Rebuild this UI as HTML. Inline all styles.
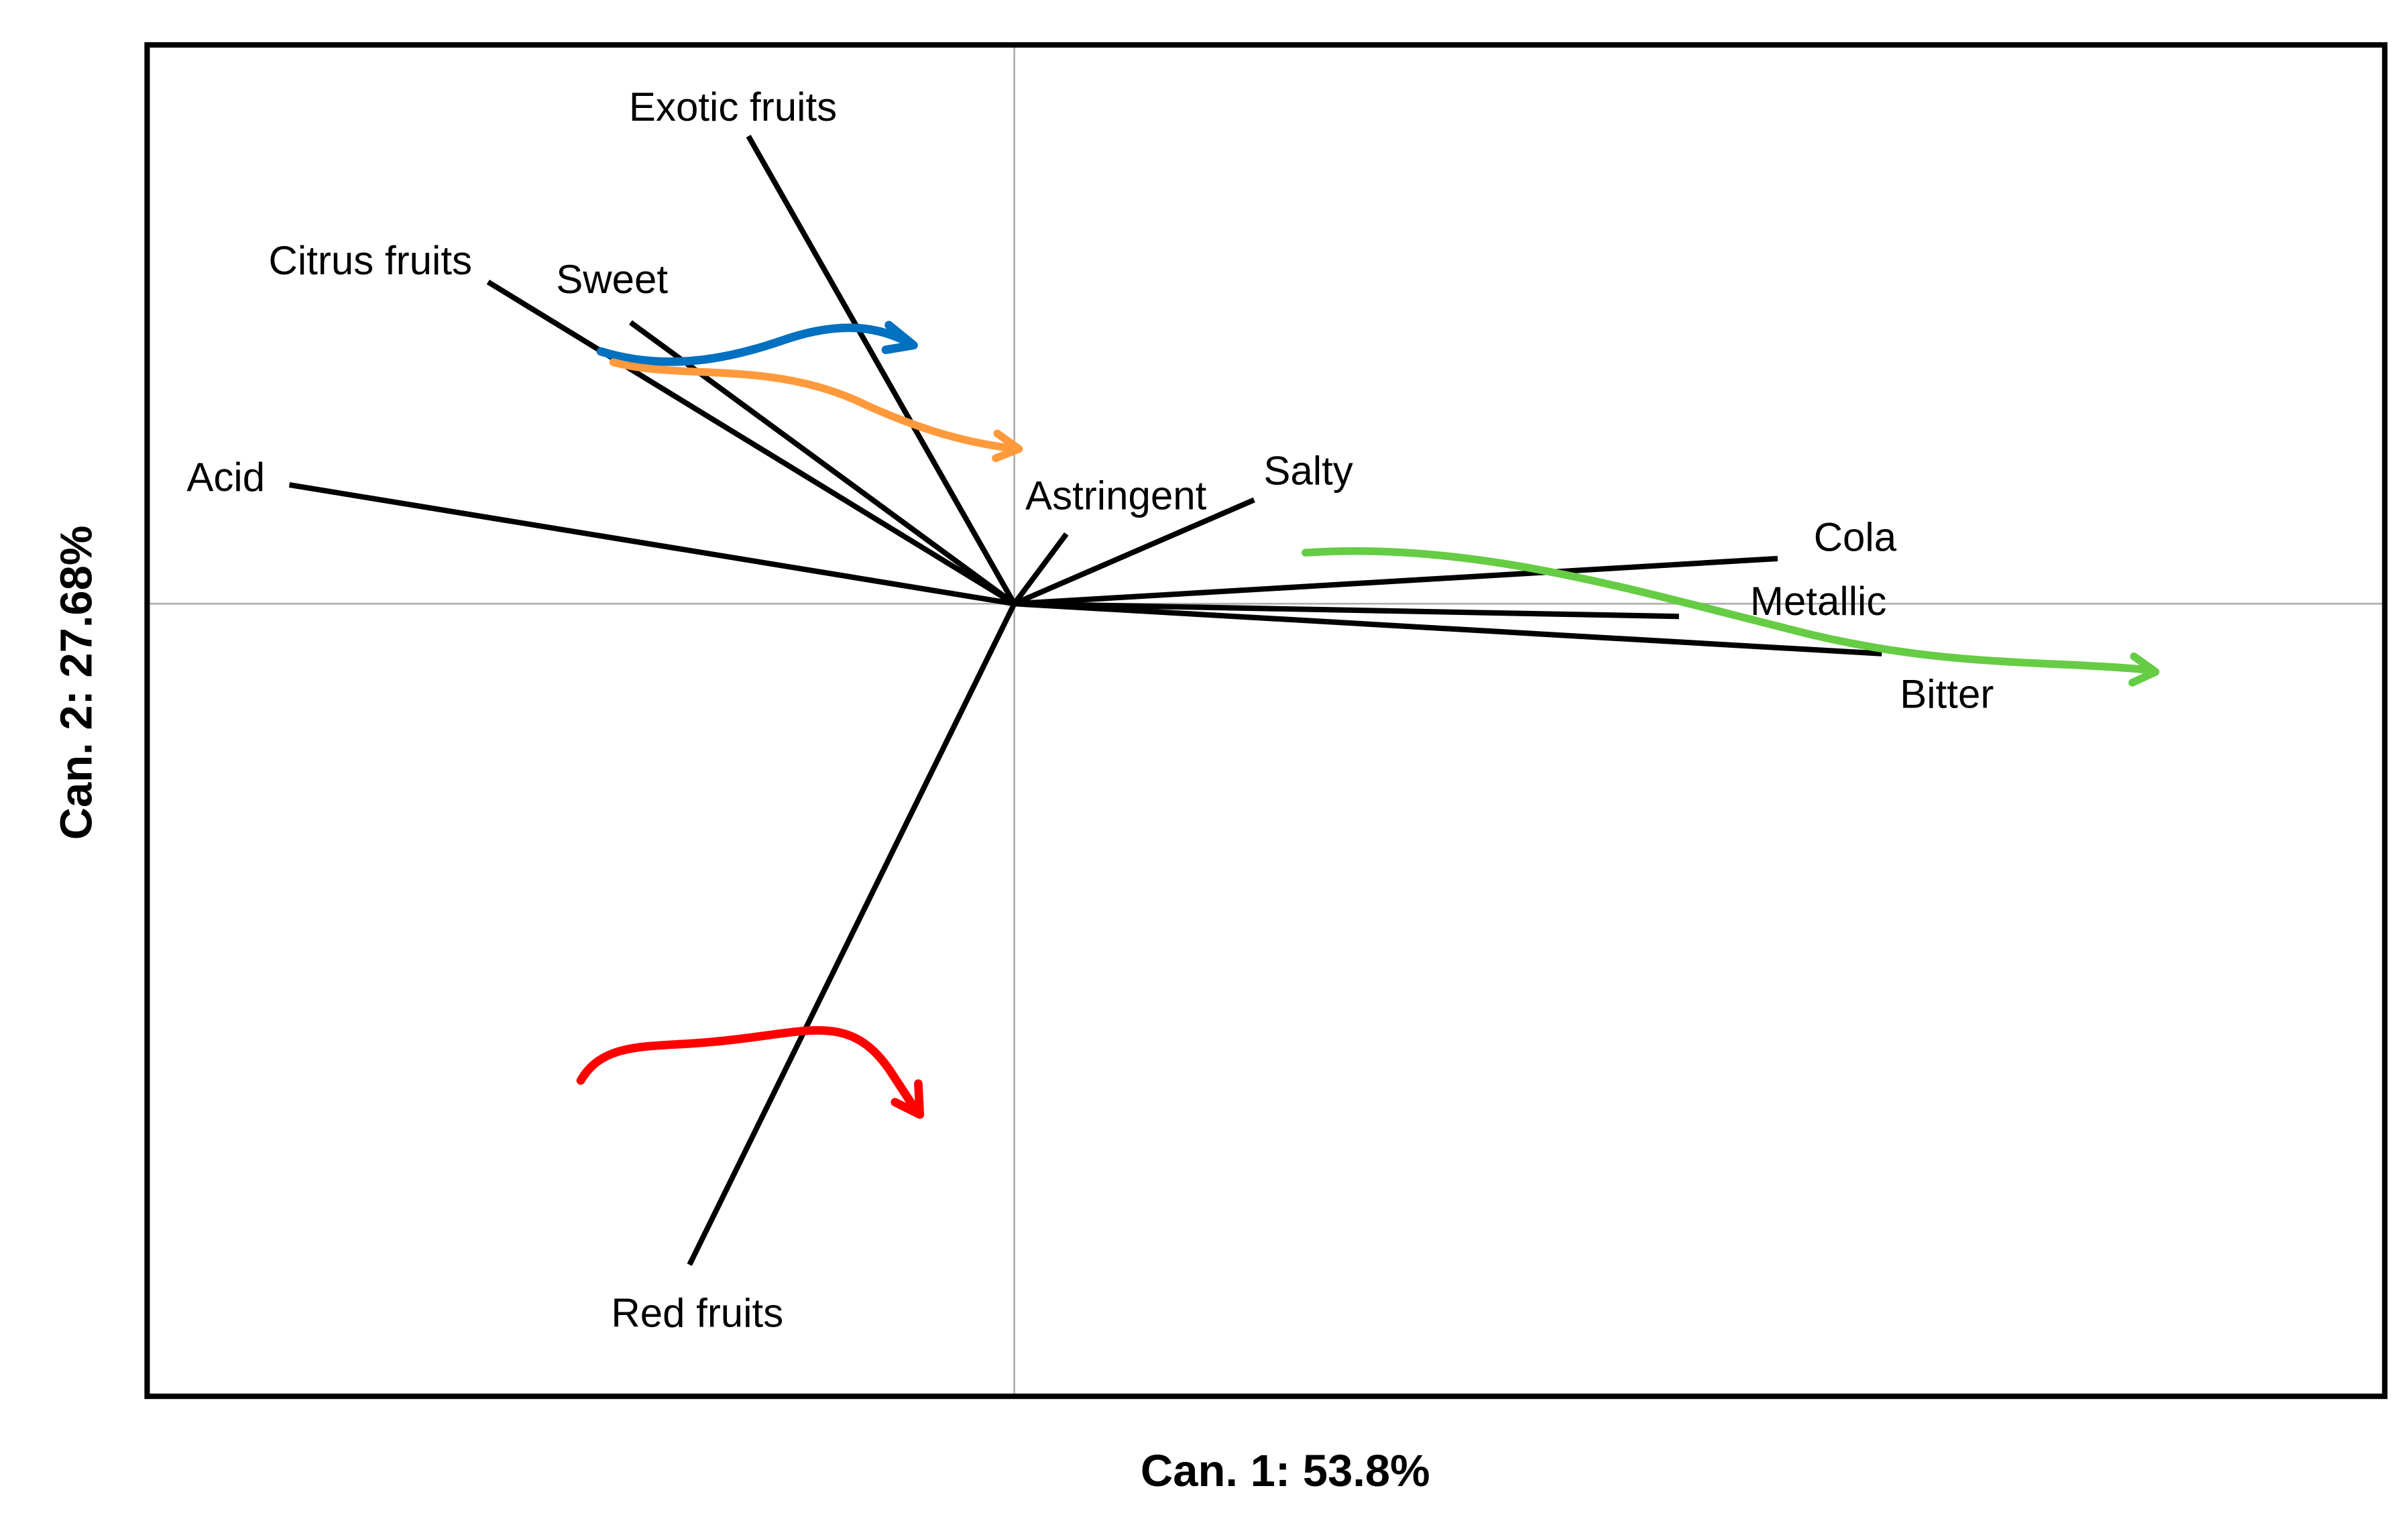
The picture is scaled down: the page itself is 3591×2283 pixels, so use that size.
<!DOCTYPE html>
<html><head><meta charset="utf-8">
<style>
html,body{margin:0;padding:0;background:#fff;}
svg{display:block;}
text{font-family:"Liberation Sans",sans-serif;}
</style></head>
<body>
<svg id="chart" width="3591" height="2283" viewBox="0 0 1555 989" preserveAspectRatio="none" xmlns="http://www.w3.org/2000/svg">
<rect x="0" y="0" width="1555" height="989" fill="#fff"/>
<g id="grid"></g>
<g id="vectors"></g>
<g id="labels"></g>
<g id="annotations" fill="none" stroke-linecap="round" stroke-linejoin="round">
  <path d="M388,227 C430,240 470,232 505,220 C545,206 570,212 588,222 M574,210 L590,223 L572,226" stroke="#0070c0" stroke-width="5.5"/>
  <path d="M396,234 C440,246 500,232 560,262 C600,280 630,287 657,290 M644,280 L658,290 L643,296" stroke="#ff9a3c" stroke-width="5"/>
  <path d="M843,357 C950,350 1050,380 1150,405 C1250,432 1320,426 1390,433 M1378,424 L1392,434 L1377,441" stroke="#66cc44" stroke-width="5"/>
  <path d="M375,698 C390,672 420,677 460,673 C520,668 548,652 575,692 L592,718 M593,700 L594,720 L578,712" stroke="#ff0000" stroke-width="5.5"/>
</g>
<rect x="95" y="29" width="1445" height="873" fill="none" stroke="#000" stroke-width="3.5"/>
<text x="830" y="960" font-size="29" font-weight="bold" text-anchor="middle">Can. 1: 53.8%</text>
<text transform="translate(59,441) rotate(-90)" font-size="29" font-weight="bold" text-anchor="middle">Can. 2: 27.68%</text>
</svg>
<script>
const attributes = ["Exotic fruits","Citrus fruits","Sweet","Acid","Astringent","Salty","Cola","Metallic","Bitter","Red fruits"];
const can1Values = [-0.194,-0.384,-0.280,-0.529,0.038,0.175,0.557,0.485,0.633,-0.237];
const can2Values = [0.590,0.406,0.355,0.150,0.088,0.131,0.057,-0.016,-0.063,-0.834];
const labelDx = [-10,-76,-12,-41,32,35,50,90,42,5];
const labelDy = [-10,-5,-19,4,-16,-10,-5,-1,35,40];
const anchors = ["middle","middle","middle","middle","middle","middle","middle","middle","middle","middle"];

const X0=655, XS=885, Y0=390, YS=512;
function xScale(v){return X0+v*XS;}
function yScale(v){return Y0-v*YS;}
const NS="http://www.w3.org/2000/svg";
const grid=document.getElementById('grid');
const vg=document.getElementById('vectors');
const lg=document.getElementById('labels');

const gv=document.createElementNS(NS,'line');


gv.setAttribute('x1',xScale(0));gv.setAttribute('x2',xScale(0));gv.setAttribute('y1',29);gv.setAttribute('y2',902);
gv.setAttribute('stroke','#b0b0b0');gv.setAttribute('stroke-width','1.2');
grid.appendChild(gv);
const gh=document.createElementNS(NS,'line');


gh.setAttribute('x1',95);gh.setAttribute('x2',1540);gh.setAttribute('y1',yScale(0));gh.setAttribute('y2',yScale(0));
gh.setAttribute('stroke','#b0b0b0');gh.setAttribute('stroke-width','1.2');
grid.appendChild(gh);

attributes.forEach((name,i)=>{
  const slug=name.toLowerCase().replace(/\s+/g,'-');
  const l=document.createElementNS(NS,'line');
  
  
  l.setAttribute('x1',xScale(0));l.setAttribute('y1',yScale(0));
  l.setAttribute('x2',xScale(can1Values[i]));l.setAttribute('y2',yScale(can2Values[i]));
  l.setAttribute('stroke','#000');l.setAttribute('stroke-width','3.5');
  vg.appendChild(l);
  const t=document.createElementNS(NS,'text');
  
  
  t.setAttribute('x',xScale(can1Values[i])+labelDx[i]);
  t.setAttribute('y',yScale(can2Values[i])+labelDy[i]);
  t.setAttribute('font-size','26');
  t.setAttribute('text-anchor',anchors[i]);
  t.textContent=name;
  lg.appendChild(t);
});
</script>
</body></html>
